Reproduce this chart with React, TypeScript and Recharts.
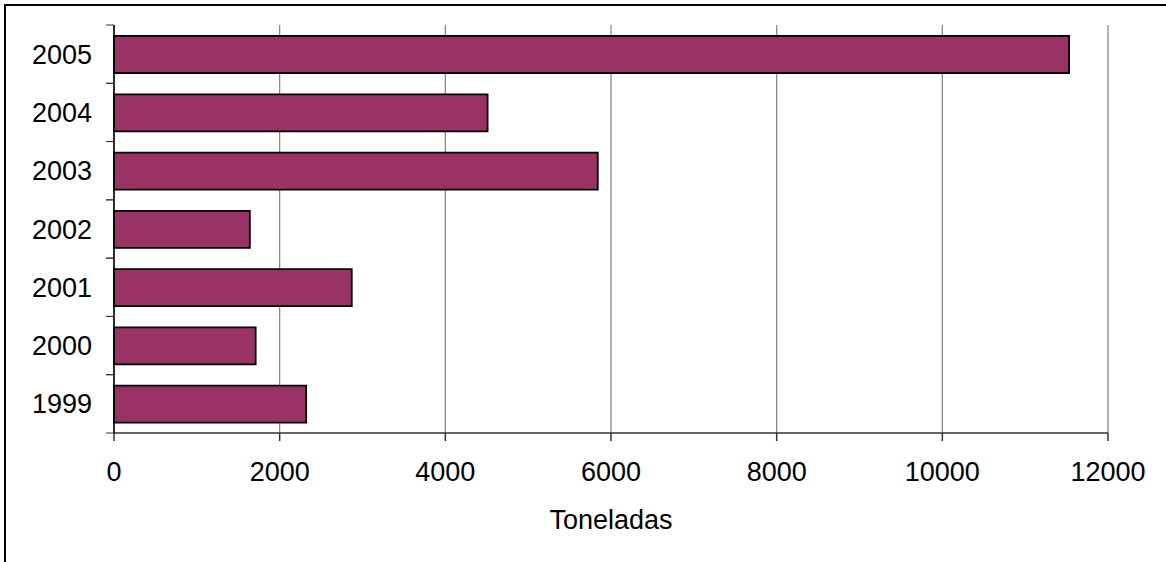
import React from 'react';
import { BarChart, Bar, XAxis, YAxis, CartesianGrid } from 'recharts';

const years = ['1999', '2000', '2001', '2002', '2003', '2004', '2005'];
const toneladas = [2320, 1710, 2870, 1640, 5840, 4510, 11530];
const xTicks = [0, 2000, 4000, 6000, 8000, 10000, 12000];

const data = years.map((year, i) => ({ year, value: toneladas[i] }));

const W = 1166;
const H = 562;
const MARGIN = { top: 25, right: 58, bottom: 0, left: 0 };
const Y_WIDTH = 114;
const X_HEIGHT = 129;
const TICK = 8;
const FONT = "Arial, 'Liberation Sans', sans-serif";
const FONT_SIZE = 27;

const PLOT_H = H - MARGIN.top - MARGIN.bottom - X_HEIGHT;
const BAND = PLOT_H / years.length;
const HALF_BAND = BAND / 2;

const YearTick = (props: any) => {
  const { x, y, payload } = props;
  const axisX = MARGIN.left + Y_WIDTH;
  return (
    <g>
      <line x1={axisX - TICK} x2={axisX} y1={y - HALF_BAND} y2={y - HALF_BAND} stroke="#333" />
      <line x1={axisX - TICK} x2={axisX} y1={y + HALF_BAND} y2={y + HALF_BAND} stroke="#333" />
      <text x={x} y={y} dy="0.355em" textAnchor="end" fill="#000" fontSize={FONT_SIZE} fontFamily={FONT}>
        {payload.value}
      </text>
    </g>
  );
};

export default function App() {
  return (
    <div style={{ position: 'relative', width: W, height: H, overflow: 'hidden', background: '#fff' }}>
      <style>{'body{margin:0}'}</style>
      <div
        style={{
          position: 'absolute',
          left: 4,
          top: 4,
          width: W + 40,
          height: H + 40,
          border: '2px solid #000',
          boxSizing: 'border-box',
        }}
      />
      <div style={{ position: 'absolute', left: 0, top: 0 }}>
        <BarChart width={W} height={H} data={data} layout="vertical" margin={MARGIN}>
          <CartesianGrid xAxisId="main" horizontal={false} stroke="#808080" strokeWidth={1.2} />
          <XAxis
            xAxisId="top"
            orientation="top"
            type="number"
            domain={[0, 12000]}
            height={0}
            tick={false}
            tickLine={false}
            stroke="#808080"
            strokeWidth={1.5}
          />
          <XAxis
            xAxisId="main"
            type="number"
            domain={[0, 12000]}
            ticks={xTicks}
            height={X_HEIGHT}
            tickSize={TICK}
            tickMargin={21}
            stroke="#333"
            strokeWidth={1.5}
            tick={{ fill: '#000', fontSize: FONT_SIZE, fontFamily: FONT }}
            label={{
              value: 'Toneladas',
              position: 'insideBottom',
              offset: 33,
              fill: '#000',
              fontSize: FONT_SIZE,
              fontFamily: FONT,
            }}
          />
          <YAxis
            type="category"
            dataKey="year"
            reversed
            width={Y_WIDTH}
            tickSize={TICK}
            tickMargin={14}
            tickLine={false}
            stroke="#000"
            strokeWidth={1.5}
            tick={<YearTick />}
          />
          <Bar
            dataKey="value"
            xAxisId="main"
            barSize={Math.round(BAND * 0.64)}
            fill="#993366"
            stroke="#000"
            strokeWidth={1.8}
            isAnimationActive={false}
          />
        </BarChart>
      </div>
    </div>
  );
}
